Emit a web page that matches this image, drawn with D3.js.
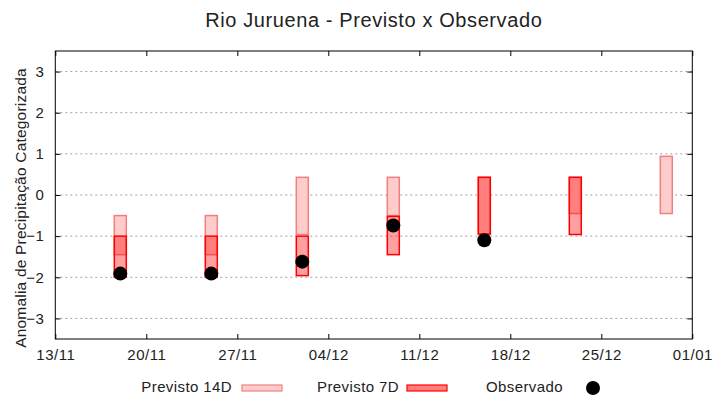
<!DOCTYPE html>
<html>
<head>
<meta charset="utf-8">
<script src="https://cdn.jsdelivr.net/npm/d3@7"></script>
<style>
  body { margin: 0; background: #fff; }
  svg { font-family: "Liberation Sans", Arial, sans-serif; }
</style>
</head>
<body>
<svg id="chart" width="720" height="400"></svg>
<script>
// ---- data ----
const dates = ["2023-11-18","2023-11-25","2023-12-02","2023-12-09","2023-12-16","2023-12-23","2023-12-30"];
const prev14Top = [-0.5, -0.5, 0.43, 0.43, 0.43, 0.43, 0.94];
const prev14Bot = [-1.45, -1.45, -0.96, -0.5, -0.95, -0.45, -0.45];
const prev7Top  = [-1.0, -1.0, -1.0, -0.52, 0.43, 0.43, null];
const prev7Bot  = [-2.0, -2.0, -1.96, -1.45, -0.95, -0.96, null];
const observado = [-1.91, -1.91, -1.62, -0.74, -1.1, null, null];
const xTickDates = ["2023-11-13","2023-11-20","2023-11-27","2023-12-04","2023-12-11","2023-12-18","2023-12-25","2024-01-01"];
const yTicks = [-3, -2, -1, 0, 1, 2, 3];
const title = "Rio Juruena - Previsto x Observado";
const yTitle = "Anomalia de Precipitação Categorizada";
const legendLabels = ["Previsto 14D", "Previsto 7D", "Observado"];

// ---- layout ----
const parse = d3.utcParse("%Y-%m-%d");
const fmt = d3.utcFormat("%d/%m");
const L = 55.3, R = 692.3, T = 51, B = 339;
const svg = d3.select("#chart");

const x = d3.scaleUtc().domain([parse("2023-11-13"), parse("2024-01-01")]).range([L, R]);
const y = d3.scaleLinear().domain([-3.5, 3.5]).range([B, T]);

// grid
svg.append("g").selectAll("line").data(yTicks).join("line")
  .attr("x1", L).attr("x2", R)
  .attr("y1", d => y(d)).attr("y2", d => y(d))
  .attr("stroke", "#a0a0a0").attr("stroke-width", 1).attr("stroke-dasharray", "2,3");

// axes
const tickLen = 5;
const xt = xTickDates.map(parse);
const axB = svg.append("g").attr("transform", `translate(0,${B})`)
  .call(d3.axisBottom(x).tickValues(xt).tickFormat(fmt).tickSizeInner(-tickLen).tickSizeOuter(0).tickPadding(10));
const axT = svg.append("g").attr("transform", `translate(0,${T})`)
  .call(d3.axisTop(x).tickValues(xt).tickFormat("").tickSizeInner(-tickLen).tickSizeOuter(0));
const axL = svg.append("g").attr("transform", `translate(${L},0)`)
  .call(d3.axisLeft(y).tickValues(yTicks).tickFormat(d3.format("d")).tickSizeInner(-tickLen).tickSizeOuter(0).tickPadding(11));
const axR = svg.append("g").attr("transform", `translate(${R},0)`)
  .call(d3.axisRight(y).tickValues(yTicks).tickFormat("").tickSizeInner(-tickLen).tickSizeOuter(0));
[axB, axT, axL, axR].forEach(a => {
  a.select(".domain").remove();
  a.selectAll(".tick line").attr("stroke", "#000");
  a.selectAll("text").attr("font-size", 15).attr("fill", "#222").attr("letter-spacing", 0.5)
    .attr("font-family", "Liberation Sans, Arial, sans-serif");
});
axB.selectAll("text").attr("dy", "0.71em");

// bars
const bw = 12;
const rows = dates.map((d, i) => ({
  date: parse(d), t14: prev14Top[i], b14: prev14Bot[i],
  t7: prev7Top[i], b7: prev7Bot[i], obs: observado[i]
}));
svg.append("g").selectAll("rect").data(rows.filter(r => r.t14 != null)).join("rect")
  .attr("x", r => x(r.date) - bw / 2).attr("width", bw)
  .attr("y", r => y(r.t14)).attr("height", r => y(r.b14) - y(r.t14))
  .attr("fill", "#ffcccc").attr("stroke", "#f08080").attr("stroke-width", 1.5);
svg.append("g").selectAll("rect").data(rows.filter(r => r.t7 != null)).join("rect")
  .attr("x", r => x(r.date) - bw / 2).attr("width", bw)
  .attr("y", r => y(r.t7)).attr("height", r => y(r.b7) - y(r.t7))
  .attr("fill", "rgba(255,0,0,0.376)").attr("stroke", "#ff0000").attr("stroke-width", 1.5);

// observed
svg.append("g").selectAll("circle").data(rows.filter(r => r.obs != null)).join("circle")
  .attr("cx", r => x(r.date)).attr("cy", r => y(r.obs)).attr("r", 7).attr("fill", "#000");

// frame
svg.append("rect").attr("x", L).attr("y", T).attr("width", R - L).attr("height", B - T)
  .attr("fill", "none").attr("stroke", "#000").attr("stroke-width", 1);

// title
svg.append("text").attr("x", (L + R) / 2).attr("y", 27).attr("text-anchor", "middle")
  .attr("font-size", 20).attr("letter-spacing", 0.6).attr("fill", "#222").text(title);

// y title
svg.append("text").attr("transform", `translate(26,208) rotate(-90)`).attr("text-anchor", "middle")
  .attr("font-size", 15.5).attr("letter-spacing", 0.2).attr("fill", "#222").text(yTitle);

// legend
const lg = svg.append("g").attr("font-size", 15).attr("letter-spacing", 0.4).attr("fill", "#222");
const ly = 392;
lg.append("text").attr("x", 232).attr("y", ly).attr("text-anchor", "end").text(legendLabels[0]);
lg.append("rect").attr("x", 242).attr("y", 385).attr("width", 40).attr("height", 6)
  .attr("fill", "#ffcccc").attr("stroke", "#f08080").attr("stroke-width", 1.2);
lg.append("text").attr("x", 399).attr("y", ly).attr("text-anchor", "end").text(legendLabels[1]);
lg.append("rect").attr("x", 407).attr("y", 385).attr("width", 40).attr("height", 6)
  .attr("fill", "#ff7f7f").attr("stroke", "#ff0000").attr("stroke-width", 1.2);
lg.append("text").attr("x", 563).attr("y", ly).attr("text-anchor", "end").text(legendLabels[2]);
lg.append("circle").attr("cx", 593).attr("cy", 388).attr("r", 7).attr("fill", "#000");
</script>
</body>
</html>
